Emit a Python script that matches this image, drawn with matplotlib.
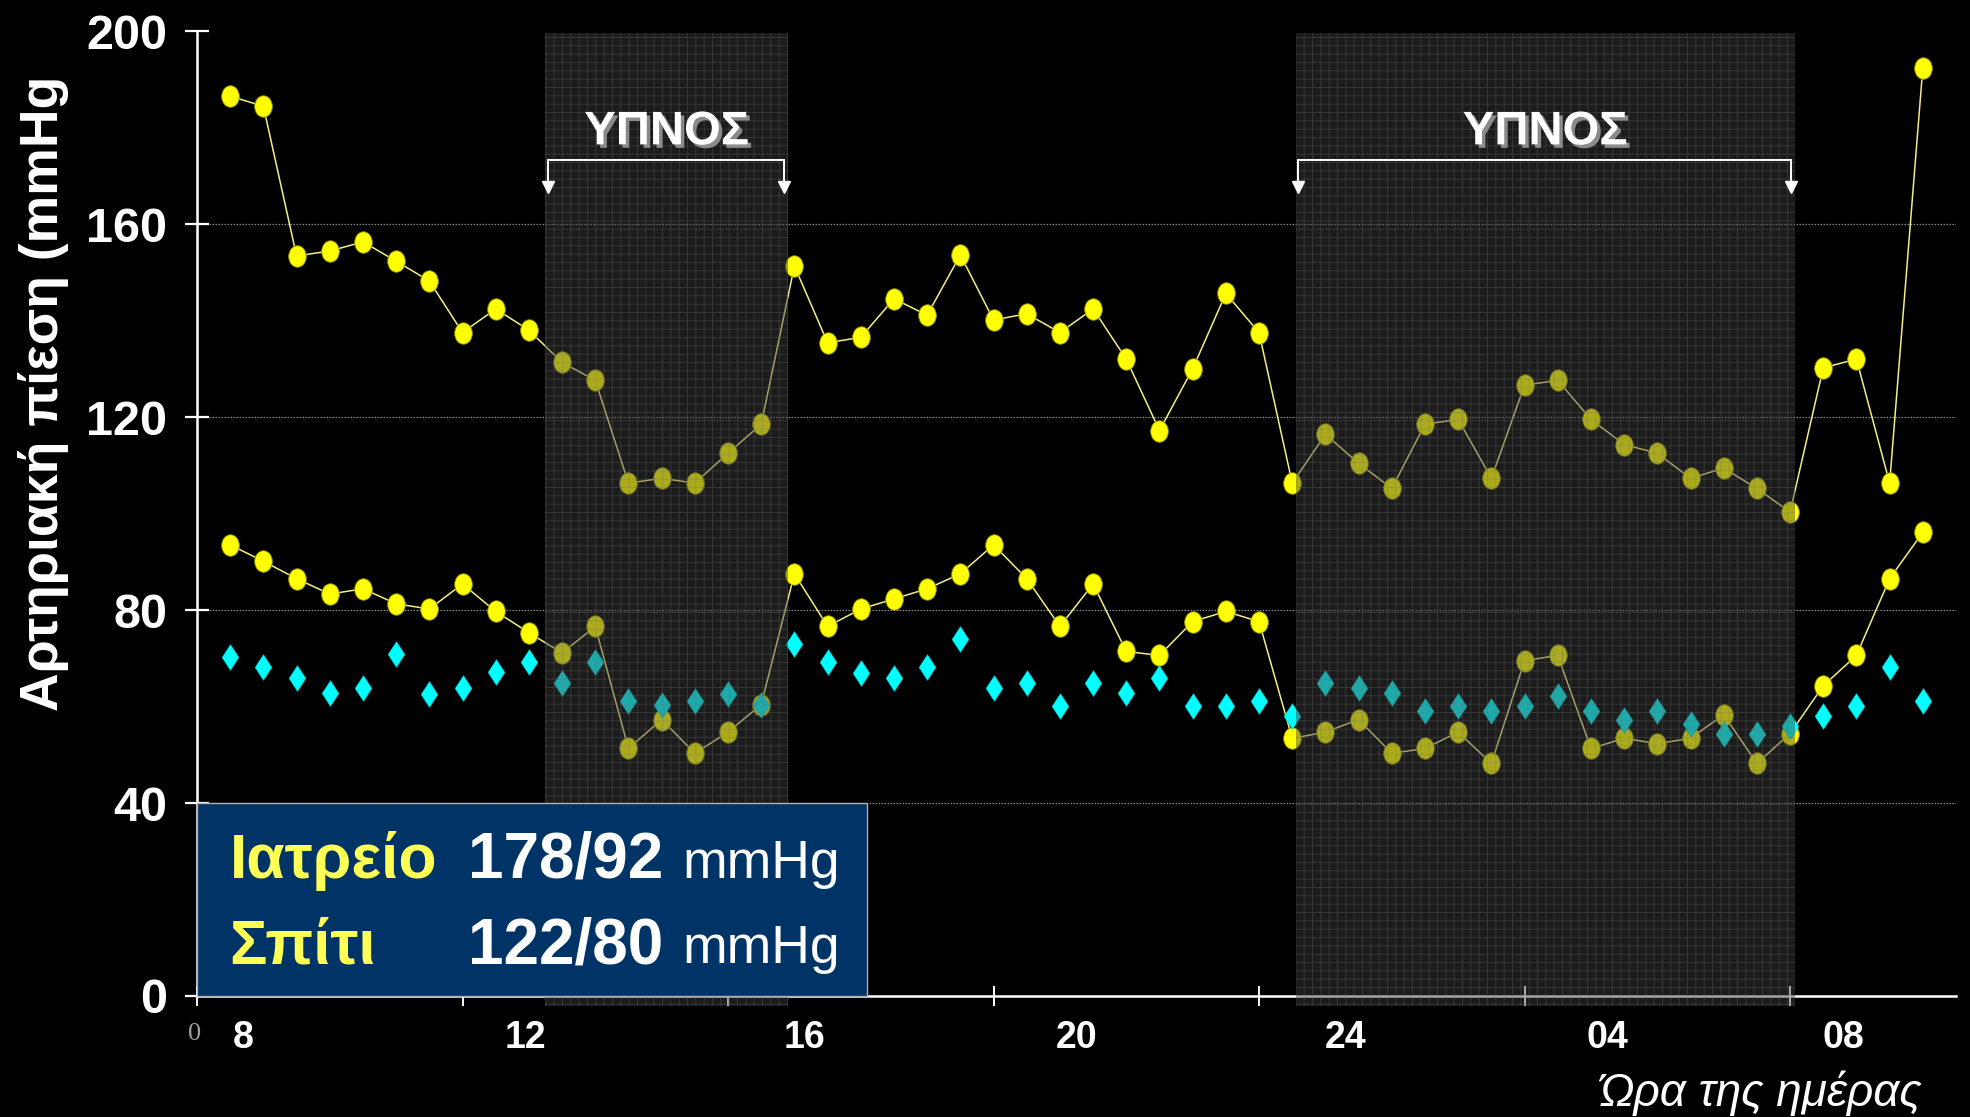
import matplotlib
matplotlib.use("Agg")
import matplotlib.pyplot as plt
from matplotlib.path import Path
from matplotlib.markers import MarkerStyle
from matplotlib.transforms import Affine2D
from matplotlib.patches import Rectangle
import matplotlib.patheffects as pe

# ---------------- data ----------------
hours = [7.5, 8.0, 8.5, 9.0, 9.5, 10.0, 10.5, 11.0, 11.5, 12.0, 12.5, 13.0, 13.5,
         14.0, 14.5, 15.0, 15.5, 16.0, 16.5, 17.0, 17.5, 18.0, 18.5, 19.0, 19.5,
         20.0, 20.5, 21.0, 21.5, 22.0, 22.5, 23.0, 23.5, 24.0, 24.5, 25.0, 25.5,
         26.0, 26.5, 27.0, 27.5, 28.0, 28.5, 29.0, 29.5, 30.0, 30.5, 31.0, 31.5,
         32.0, 32.5, 33.0]
systolic = [186.5, 184.4, 153.4, 154.4, 156.3, 152.3, 148.2, 137.5, 142.4, 138.0,
            131.3, 127.6, 106.3, 107.3, 106.3, 112.5, 118.5, 151.3, 135.4, 136.5,
            144.5, 141.1, 153.6, 140.1, 141.4, 137.5, 142.4, 132.0, 117.2, 130.0,
            145.6, 137.5, 106.3, 116.4, 110.4, 105.2, 118.5, 119.5, 107.3, 126.6,
            127.6, 119.5, 114.3, 112.5, 107.3, 109.4, 105.2, 100.3, 130.2, 132.0,
            106.3, 192.4]
diastolic = [93.5, 90.1, 86.5, 83.3, 84.4, 81.3, 80.2, 85.4, 79.7, 75.3,
             71.1, 76.6, 51.3, 57.3, 50.3, 54.7, 60.4, 87.5, 76.6, 80.2,
             82.3, 84.4, 87.5, 93.5, 86.5, 76.6, 85.4, 71.4, 70.6, 77.6,
             79.7, 77.6, 53.4, 54.7, 57.3, 50.3, 51.3, 54.7, 48.2, 69.5,
             70.6, 51.3, 53.4, 52.3, 53.4, 58.3, 48.2, 54.4, 64.3, 70.6,
             86.5, 96.1]
heart_rate = [70.3, 68.2, 65.9, 62.8, 63.8, 70.8, 62.5, 63.8, 67.2, 69.3,
              64.8, 69.3, 61.2, 60.4, 61.2, 62.5, 60.4, 72.9, 69.3, 66.9,
              65.9, 68.2, 74.0, 63.8, 64.8, 60.2, 64.8, 62.8, 65.9, 60.2,
              60.2, 61.2, 58.1, 64.8, 63.8, 62.8, 59.1, 60.2, 59.1, 60.2,
              62.2, 59.1, 57.3, 59.1, 56.3, 54.2, 54.2, 56.0, 58.1, 60.2,
              68.2, 61.2]
sleep_periods = [(12.25, 15.9), (23.55, 31.07)]
sleep_label = "ΥΠΝΟΣ"
major_ticks = [7, 11, 15, 19, 23, 27, 31]
hour_label_pos = [7.7, 11.95, 16.15, 20.25, 24.3, 28.25, 31.8]
hour_labels = ["8", "12", "16", "20", "24", "04", "08"]
y_ticks = [0, 40, 80, 120, 160, 200]
box_rows = [("Ιατρείο", "178/92", "mmHg"), ("Σπίτι", "122/80", "mmHg")]
ylabel = "Αρτηριακή πίεση (mmHg"
xlabel = "Ώρα της ημέρας"

# ---------------- style ----------------
SANS = ["Liberation Sans", "DejaVu Sans"]
plt.rcParams["hatch.linewidth"] = 0.6

fig = plt.figure(figsize=(19.70, 11.17), dpi=100, facecolor="black")
ax = fig.add_axes([0.1, 0.10833, 0.8929, 0.8639])
ax.set_facecolor("black")
ax.set_xlim(7, 33.5)
ax.set_ylim(0, 200)

for s in ["top", "right"]:
    ax.spines[s].set_visible(False)
for s in ["left", "bottom"]:
    ax.spines[s].set_color("white")
    ax.spines[s].set_linewidth(1.8)

# y ticks
ax.set_yticks(y_ticks, [str(v) for v in y_ticks], fontsize=35,
              fontweight="bold", family=SANS, color="white")
ax.tick_params(axis="y", direction="inout", length=17, width=1.6,
               color="white", pad=13)
# x ticks
ax.set_xticks(major_ticks, [""] * len(major_ticks))
ax.tick_params(axis="x", which="major", direction="inout", length=15,
               width=1.4, color="white")
ax.set_xticks(hour_label_pos, hour_labels, minor=True, fontsize=27,
              fontweight="bold", family=SANS, color="white")
ax.tick_params(axis="x", which="minor", length=0, pad=17)

# dotted gridlines
for v in y_ticks[1:-1]:
    ax.axhline(v, color="#8a8a8a", lw=0.9, ls=(0, (1.2, 1.2)), zorder=1)

# markers
ell = Path.unit_circle().transformed(Affine2D().scale(0.82, 1.0))
diamond = Path([(0, 1), (0.65, 0), (0, -1), (-0.65, 0), (0, 1)],
               [Path.MOVETO, Path.LINETO, Path.LINETO, Path.LINETO, Path.CLOSEPOLY])

for series in (systolic, diastolic):
    ax.plot(hours, series, color="#f2ee86", lw=1.1, zorder=3,
            marker=MarkerStyle(ell), markersize=15.5,
            markerfacecolor="#ffff00", markeredgecolor="#8c8c00",
            markeredgewidth=0.6)
ax.plot(hours, heart_rate, ls="none", marker=MarkerStyle(diamond),
        markersize=18.5, markerfacecolor="#00ffff", markeredgecolor="#00cccc",
        markeredgewidth=0.4, zorder=4)

# sleep shading (translucent overlay with fine grid)
for (a, b) in sleep_periods:
    ax.add_patch(Rectangle((a, -2), b - a, 201.5, facecolor=(0.25, 0.25, 0.25, 0.44),
                           edgecolor="none", lw=0, zorder=5, clip_on=False))
    ax.add_patch(Rectangle((a, -2), b - a, 201.5, facecolor="none",
                           edgecolor=(0.45, 0.45, 0.45, 0.35), hatch="++", lw=0,
                           zorder=5, clip_on=False))
    xm = (a + b) / 2
    ax.text(xm, 176.5, sleep_label, ha="center", va="baseline", fontsize=34,
            fontweight="bold", family=SANS, color="white", zorder=8,
            path_effects=[pe.SimplePatchShadow(offset=(2.5, -2.5),
                                               shadow_rgbFace="#8a8a8a", alpha=1),
                          pe.Normal()])
    x1, x2 = a + 0.04, b - 0.06
    ax.plot([x1, x1, x2, x2], [168.5, 173.3, 173.3, 168.5], color="white",
            lw=1.4, zorder=8, solid_joinstyle="miter")
    ax.plot([x1, x2], [167.6, 167.6], ls="none", marker="v", markersize=9,
            color="white", zorder=8)

# info box
ax.add_patch(Rectangle((7, 0), 10.1, 40, facecolor="#003366",
                       edgecolor="#b0b0b0", lw=1.0, zorder=6, clip_on=False))
row_y = [24.5, 6.8]
for (name, val, unit), yy in zip(box_rows, row_y):
    ax.text(7.49, yy, name, ha="left", va="baseline", fontsize=45,
            fontweight="bold", family=SANS, color="#ffff55", zorder=7)
    ax.text(11.09, yy, val, ha="left", va="baseline", fontsize=46,
            fontweight="bold", family=SANS, color="white", zorder=7)
    ax.text(14.31, yy, unit, ha="left", va="baseline", fontsize=38.5,
            family=SANS, color="white", zorder=7)

# small origin label
ax.text(6.96, -7.8, "0", ha="center", va="center", fontsize=19,
        family=["Liberation Serif", "DejaVu Serif"], color="#a0a0a0",
        clip_on=False)

# axis titles
fig.text(0.0223, 0.6475, ylabel, rotation=90, ha="center", va="center",
         fontsize=38.5, fontweight="bold", family=SANS, color="white")
fig.text(1922 / 1970, 1 - 1093 / 1117, xlabel, ha="right", va="center",
         fontsize=33, style="italic", family=SANS, color="white")

fig.savefig("out.png", dpi=100, facecolor="black")
